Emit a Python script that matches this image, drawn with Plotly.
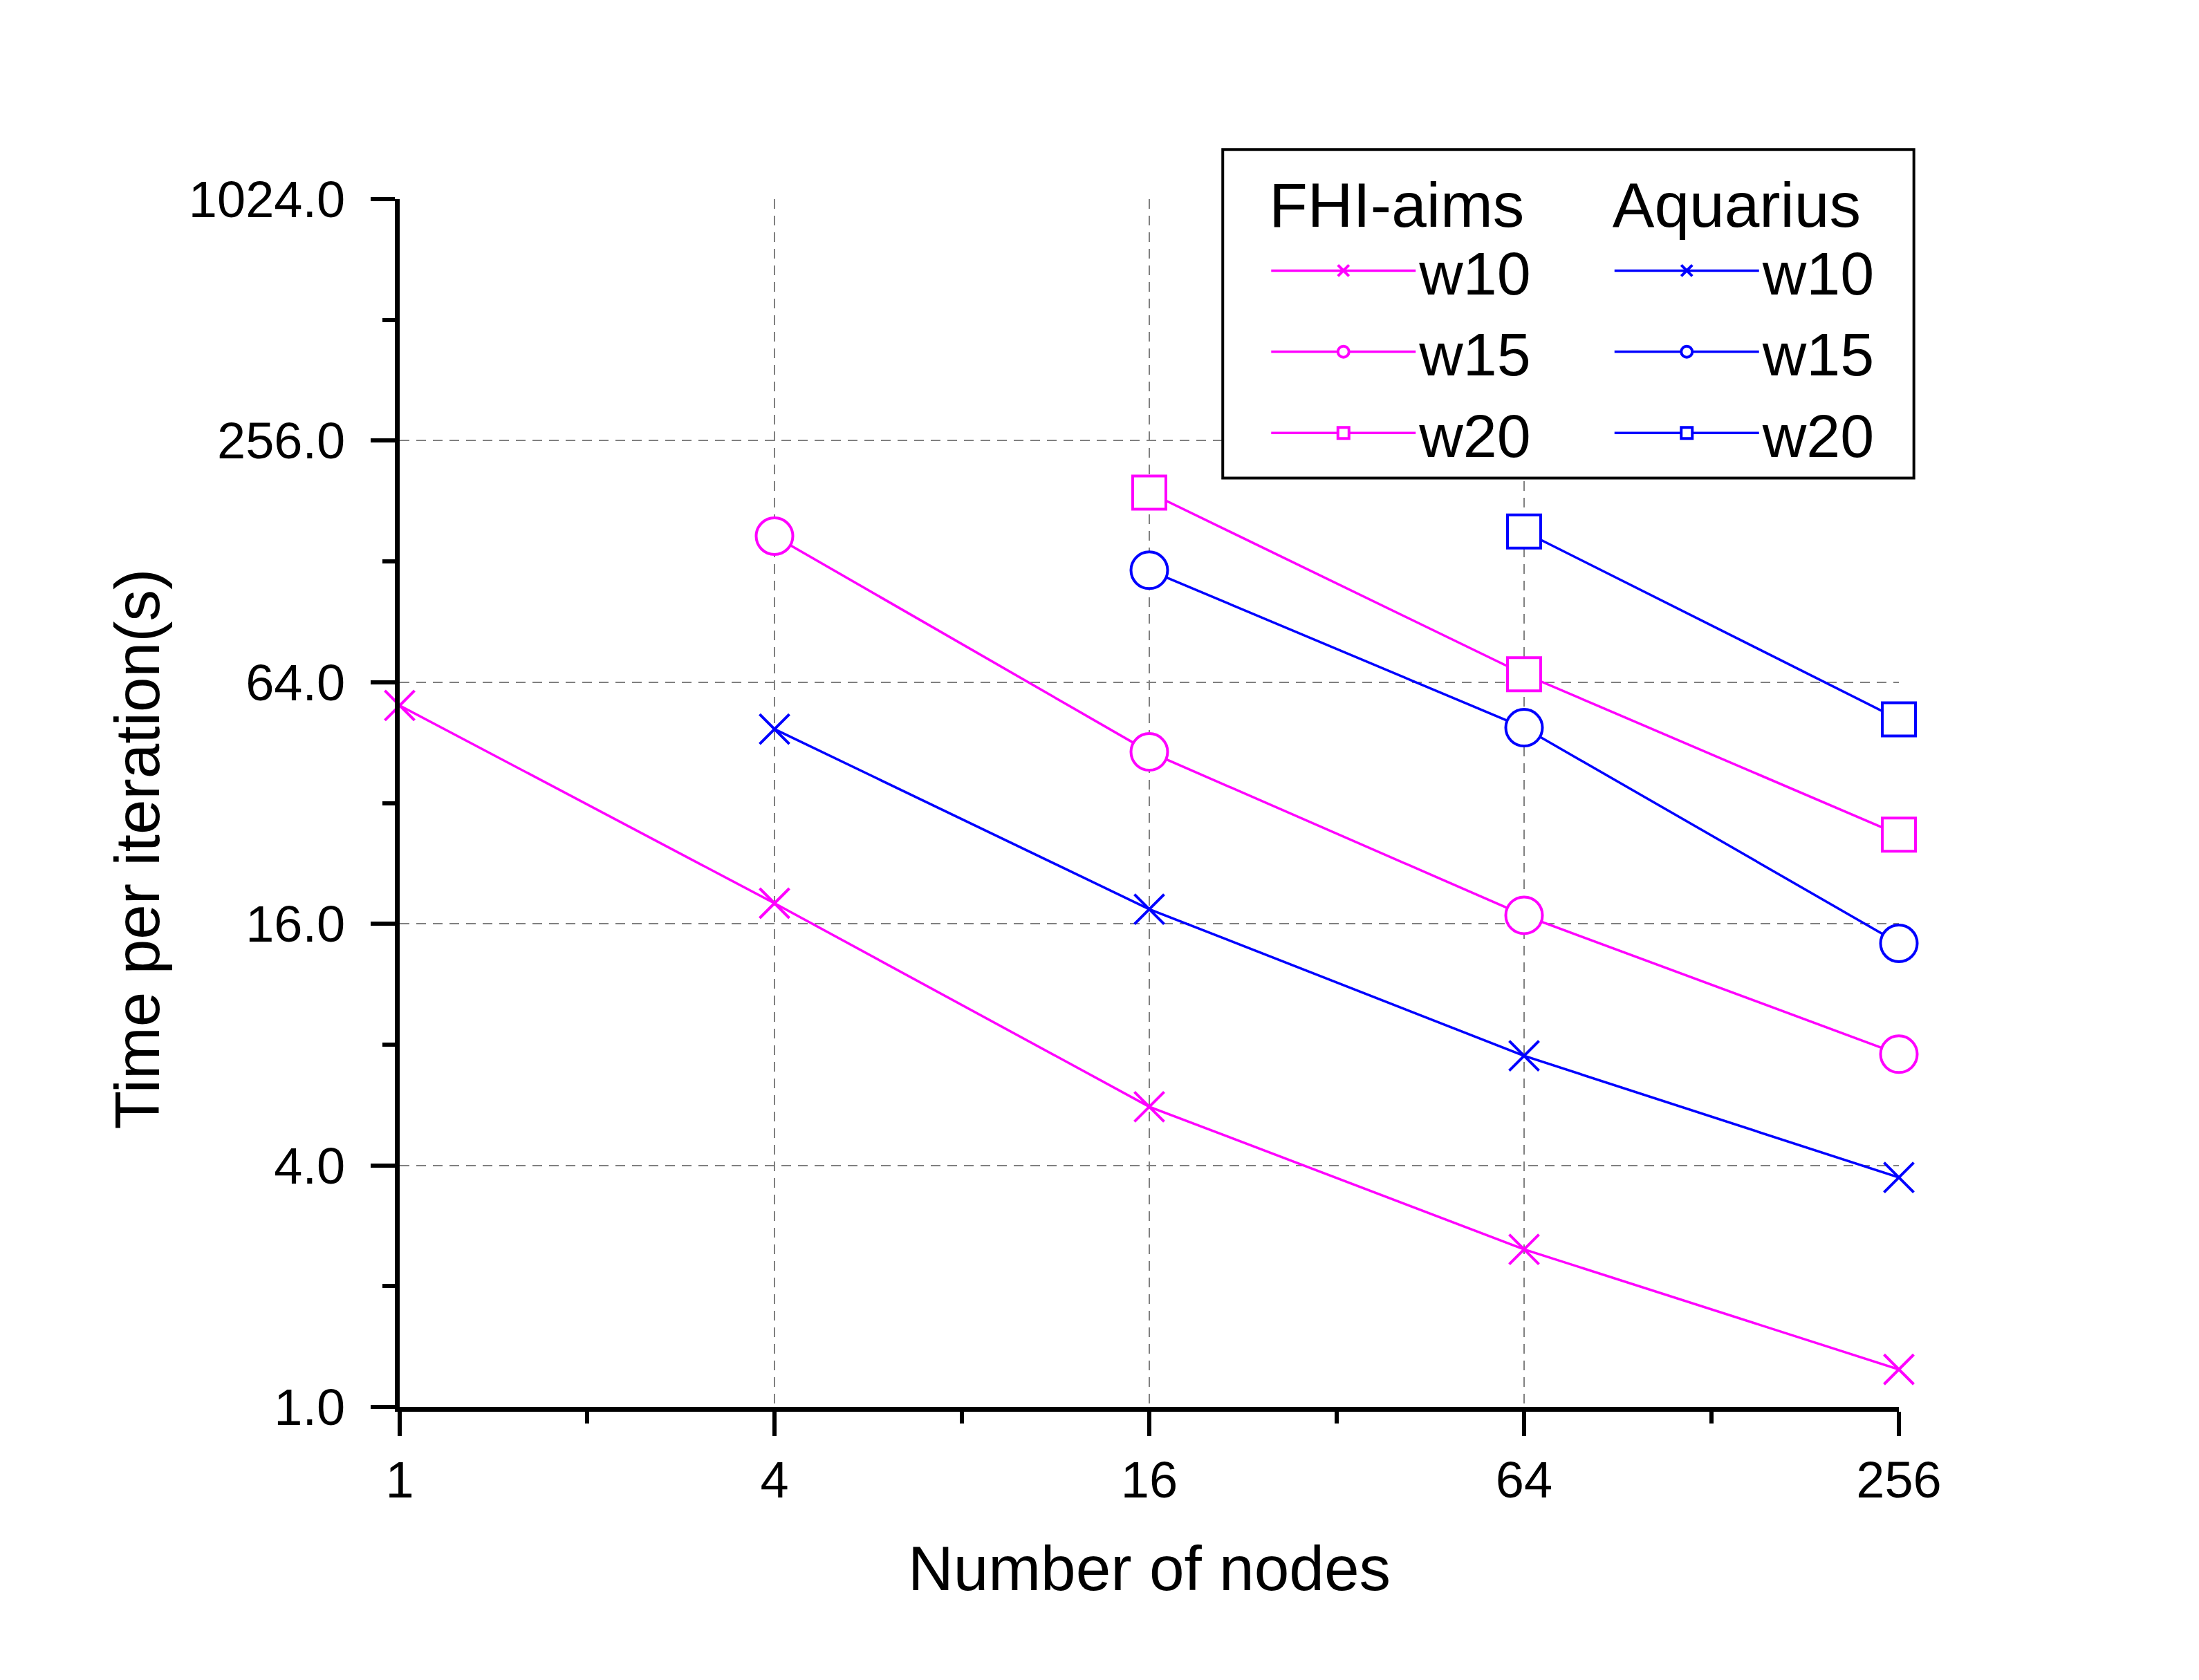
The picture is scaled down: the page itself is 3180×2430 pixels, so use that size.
import plotly.graph_objects as go

# data (log2 axes)
nodes = [1, 4, 16, 64, 256]
fhi_w10 = [56, 18, 5.6, 2.47, 1.24]
fhi_w15 = [None, 148, 42.9, 16.8, 7.57]
fhi_w20 = [None, None, 190, 67, 26.7]
aq_w10 = [None, 48.9, 17.4, 7.5, 3.73]
aq_w15 = [None, None, 121.7, 49.3, 14.3]
aq_w20 = [None, None, None, 152, 51.7]

y_ticks = [1, 4, 16, 64, 256, 1024]
y_ticktext = ["1.0", "4.0", "16.0", "64.0", "256.0", "1024.0"]
y_minor = [2, 8, 32, 128, 512]
x_ticks = [1, 4, 16, 64, 256]
x_ticktext = ["1", "4", "16", "64", "256"]
x_minor = [2, 8, 32, 128]

MAGENTA = "#FF00FF"
BLUE = "#0000FF"
FONT = "Liberation Sans, Arial, sans-serif"

# symbol, size, filled white (hides the line inside, like the original)
symbols = {"x": ("x-thin-open", 43, False), "o": ("circle", 53, True), "s": ("square", 48, True)}

series = [
    ("w10", fhi_w10, MAGENTA, "x", "legend"),
    ("w15", fhi_w15, MAGENTA, "o", "legend"),
    ("w20", fhi_w20, MAGENTA, "s", "legend"),
    ("w10", aq_w10, BLUE, "x", "legend2"),
    ("w15", aq_w15, BLUE, "o", "legend2"),
    ("w20", aq_w20, BLUE, "s", "legend2"),
]

fig = go.Figure()
for name, vals, color, sym, leg in series:
    symbol, size, filled = symbols[sym]
    fig.add_trace(go.Scatter(
        x=nodes, y=vals, name=name, mode="lines+markers", legend=leg,
        cliponaxis=False,
        line=dict(color=color, width=3.5),
        marker=dict(symbol=symbol, size=size, color="white" if filled else color,
                    line=dict(color=color, width=4)),
    ))

axis_common = dict(
    type="log", showline=True, linewidth=7, linecolor="black",
    ticks="outside", ticklen=35, tickwidth=6, tickcolor="black",
    tickfont=dict(size=74, color="black", family=FONT),
    showgrid=True, gridcolor="#808080", gridwidth=2, griddash="14px,10px",
    zeroline=False, mirror=False,
)

fig.update_xaxes(
    **axis_common,
    range=[0, 2.40824], tickmode="array", tickvals=x_ticks, ticktext=x_ticktext,
    minor=dict(tickmode="array", tickvals=x_minor, ticks="outside", ticklen=17,
               tickwidth=6, tickcolor="black", showgrid=False),
    title=dict(text="Number of nodes", font=dict(size=91, color="black", family=FONT),
               standoff=58),
)
fig.update_yaxes(
    **axis_common,
    range=[0, 3.0103], tickmode="array", tickvals=y_ticks, ticktext=y_ticktext,
    ticklabelstandoff=22,
    minor=dict(tickmode="array", tickvals=y_minor, ticks="outside", ticklen=18,
               tickwidth=6, tickcolor="black", showgrid=False),
)

title_font = dict(size=91, color="black", family=FONT)
item_font = dict(size=88, color="black", family=FONT)
fig.update_layout(
    width=3180, height=2430,
    margin=dict(l=570, r=442, t=280, b=403, autoexpand=False),
    paper_bgcolor="white", plot_bgcolor="white",
    font=dict(family=FONT, color="black"),
    legend=dict(x=0.579, y=1.045, xanchor="left", yanchor="top",
                title=dict(text="FHI-aims", font=title_font),
                font=item_font, itemwidth=209, bgcolor="rgba(0,0,0,0)",
                borderwidth=0, tracegroupgap=0),
    legend2=dict(x=0.808, y=1.045, xanchor="left", yanchor="top",
                 title=dict(text="Aquarius", font=title_font),
                 font=item_font, itemwidth=209, bgcolor="rgba(0,0,0,0)",
                 borderwidth=0, tracegroupgap=0),
    shapes=[dict(type="rect", xref="paper", yref="paper",
                 x0=0.549, x1=1.010, y0=0.769, y1=1.041,
                 line=dict(color="black", width=4), fillcolor="white", layer="above")],
    annotations=[dict(text="Time per iteration(s)", textangle=-90, showarrow=False,
                      xref="paper", yref="paper", x=-0.175, y=0.462,
                      xanchor="center", yanchor="middle", font=title_font)],
)

fig.write_html("out.html")
